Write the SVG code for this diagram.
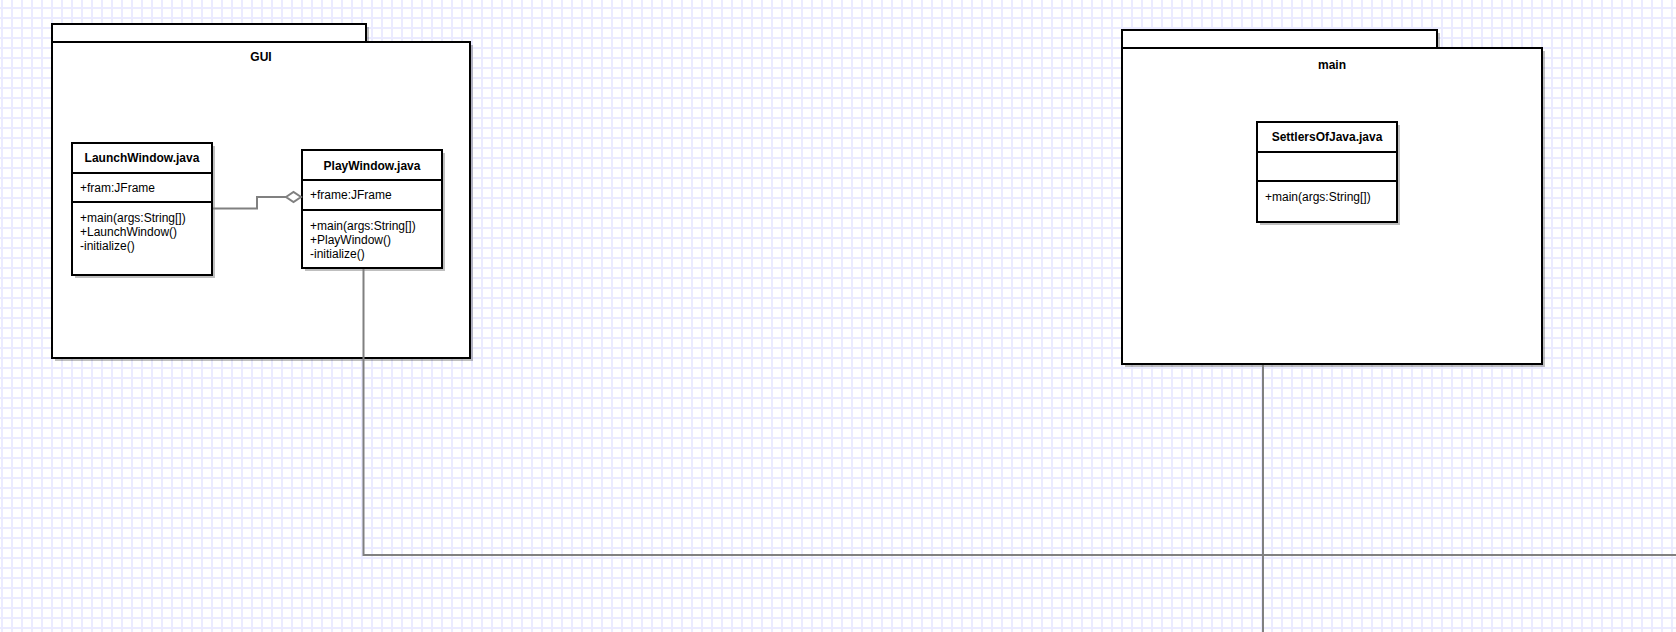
<svg xmlns="http://www.w3.org/2000/svg" width="1676" height="632" viewBox="0 0 1676 632">
<style>
.frame{fill:#fff;stroke:#000;stroke-width:2}
.shadow{fill:#000;opacity:0.25}
.title{font-family:"Liberation Sans",Arial,sans-serif;font-size:12px;font-weight:bold;fill:#000;text-anchor:middle}
.body{font-family:"Liberation Sans",Arial,sans-serif;font-size:12px;fill:#000}
.div{stroke:#000;stroke-width:2}
.conn{fill:none;stroke:#808080;stroke-width:2}
</style>
<defs>
<pattern id="grid" x="1" y="7" width="10" height="10" patternUnits="userSpaceOnUse">
<path d="M1,0 V10 M0,1 H10" stroke="#ebebff" stroke-width="2" fill="none"/>
</pattern>
</defs>
<rect width="1676" height="632" fill="#fff"/>
<rect width="1676" height="632" fill="url(#grid)"/>

<g id="pkg-gui">
<rect class="shadow" x="55" y="27" width="314" height="18"/>
<rect class="shadow" x="55" y="45" width="418" height="316"/>
<rect class="frame" x="52" y="24" width="314" height="18"/>
<rect class="frame" x="52" y="42" width="418" height="316"/>
<text class="title" x="261" y="61">GUI</text>
</g>

<g id="pkg-main">
<rect class="shadow" x="1125" y="33" width="315" height="18"/>
<rect class="shadow" x="1125" y="51" width="420" height="316"/>
<rect class="frame" x="1122" y="30" width="315" height="18"/>
<rect class="frame" x="1122" y="48" width="420" height="316"/>
<text class="title" x="1332" y="68.5">main</text>
</g>

<g id="cls-launchwindow">
<rect class="shadow" x="75" y="146" width="140" height="132"/>
<rect class="frame" x="72" y="143" width="140" height="132"/>
<line class="div" x1="72" y1="173" x2="212" y2="173"/>
<line class="div" x1="72" y1="202" x2="212" y2="202"/>
<text class="title" x="142" y="162">LaunchWindow.java</text>
<text class="body" x="80" y="192">+fram:JFrame</text>
<text class="body" x="80" y="222">+main(args:String[])</text>
<text class="body" x="80" y="236">+LaunchWindow()</text>
<text class="body" x="80" y="250">-initialize()</text>
</g>

<g id="cls-playwindow">
<rect class="shadow" x="305" y="153" width="140" height="118"/>
<rect class="frame" x="302" y="150" width="140" height="118"/>
<line class="div" x1="302" y1="180" x2="442" y2="180"/>
<line class="div" x1="302" y1="210" x2="442" y2="210"/>
<text class="title" x="372" y="169.5">PlayWindow.java</text>
<text class="body" x="310" y="198.5">+frame:JFrame</text>
<text class="body" x="310" y="229.5">+main(args:String[])</text>
<text class="body" x="310" y="243.5">+PlayWindow()</text>
<text class="body" x="310" y="257.5">-initialize()</text>
</g>

<g id="cls-settlersofjava">
<rect class="shadow" x="1260" y="125" width="140" height="100"/>
<rect class="frame" x="1257" y="122" width="140" height="100"/>
<line class="div" x1="1257" y1="152" x2="1397" y2="152"/>
<line class="div" x1="1257" y1="181" x2="1397" y2="181"/>
<text class="title" x="1327" y="141">SettlersOfJava.java</text>
<text class="body" x="1265" y="201">+main(args:String[])</text>
</g>

<g id="connectors">
<path class="conn" d="M213,208.5 H257 V197 H286"/>
<path d="M286,197 L293.5,192 L301,197 L293.5,202 Z" fill="#fff" stroke="#808080" stroke-width="2"/>
<path class="conn" d="M363.5,269 V555 H1676"/>
<path class="conn" d="M1263,365 V632"/>
</g>
</svg>
